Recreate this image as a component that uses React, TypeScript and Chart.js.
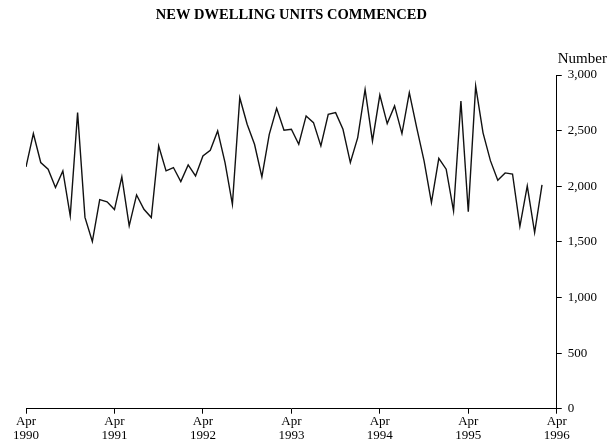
import React, { useEffect, useRef } from "react";
import { Chart, registerables } from "chart.js";

Chart.register(...registerables);

const TITLE = "NEW DWELLING UNITS COMMENCED";
const UNIT_LABEL = "Number";
const TICK_MONTH = "Apr";
const FIRST_YEAR = 1990;
const YEAR_TICKS = [1990, 1991, 1992, 1993, 1994, 1995, 1996];
const Y_TICKS = [0, 500, 1000, 1500, 2000, 2500, 3000];

// Monthly values, Apr 1990 to Feb 1996
const VALUES = [
  2174, 2473, 2213, 2153, 1988, 2138, 1734, 2662, 1720, 1503, 1880, 1860,
  1790, 2084, 1644, 1922, 1793, 1719, 2362, 2138, 2168, 2042, 2192, 2093,
  2272, 2323, 2497, 2213, 1838, 2796, 2557, 2377, 2084, 2467, 2701, 2503,
  2512, 2377, 2632, 2572, 2362, 2647, 2662, 2512, 2213, 2437, 2870, 2407,
  2820, 2563, 2722, 2473, 2841, 2527, 2228, 1853, 2251, 2153, 1778, 2766,
  1770, 2900, 2480, 2230, 2054, 2120, 2110, 1640, 2003, 1584, 2012,
];

const FONT = "'Liberation Serif', 'DejaVu Serif', serif";

export default function App() {
  const ref = useRef<HTMLCanvasElement | null>(null);

  useEffect(() => {
    if (!ref.current) return;
    const monthIdx = (y: number) => (y - FIRST_YEAR) * 12;
    const textPlugin = {
      id: "texts",
      afterDraw(chart: any) {
        const ctx = chart.ctx;
        const ca = chart.chartArea;
        ctx.save();
        ctx.fillStyle = "#000";
        ctx.font = `bold 14.5px ${FONT}`;
        ctx.textAlign = "center";
        ctx.textBaseline = "middle";
        ctx.fillText(TITLE, (ca.left + ca.right) / 2, 15);
        ctx.font = `15px ${FONT}`;
        ctx.textAlign = "left";
        ctx.fillText(UNIT_LABEL, ca.right + 1, ca.top - 16);
        ctx.restore();
      },
    };

    const chart = new Chart(ref.current, {
      type: "line",
      data: {
        datasets: [
          {
            data: VALUES.map((v, i) => ({ x: i, y: v })),
            borderColor: "#111",
            borderWidth: 1.4,
            pointRadius: 0,
            tension: 0,
            fill: false,
          },
        ],
      },
      options: {
        responsive: false,
        animation: false,
        events: [],
        layout: { padding: { left: 26, right: 9, top: 75, bottom: 3 } },
        plugins: { legend: { display: false }, tooltip: { enabled: false }, title: { display: false } },
        scales: {
          x: {
            type: "linear",
            min: monthIdx(YEAR_TICKS[0]),
            max: monthIdx(YEAR_TICKS[YEAR_TICKS.length - 1]),
            afterBuildTicks: (s: any) => {
              s.ticks = YEAR_TICKS.map((y) => ({ value: monthIdx(y) }));
            },
            grid: { drawOnChartArea: false, drawTicks: true, tickLength: 5, color: "#000", lineWidth: 1 },
            border: { display: true, color: "#000", width: 1 },
            ticks: {
              autoSkip: false,
              maxRotation: 0,
              color: "#000",
              padding: 1,
              font: { family: FONT, size: 13, lineHeight: 1.05 },
              callback: (v: any) => [TICK_MONTH, String(FIRST_YEAR + Number(v) / 12)],
            },
          },
          y: {
            position: "right",
            min: Y_TICKS[0],
            max: Y_TICKS[Y_TICKS.length - 1],
            afterBuildTicks: (s: any) => {
              s.ticks = Y_TICKS.map((v) => ({ value: v }));
            },
            grid: { drawOnChartArea: false, drawTicks: true, tickLength: 5, color: "#000", lineWidth: 1 },
            border: { display: true, color: "#000", width: 1 },
            ticks: {
              color: "#000",
              padding: 6,
              font: { family: FONT, size: 13 },
              callback: (v: any) => Number(v).toLocaleString("en-US"),
            },
          },
        },
      },
      plugins: [textPlugin],
    });
    return () => chart.destroy();
  }, []);

  return (
    <div style={{ position: "fixed", left: 0, top: 0, width: 612, height: 446, background: "#fff" }}>
      <canvas ref={ref} width={612} height={446} style={{ display: "block" }} />
    </div>
  );
}
